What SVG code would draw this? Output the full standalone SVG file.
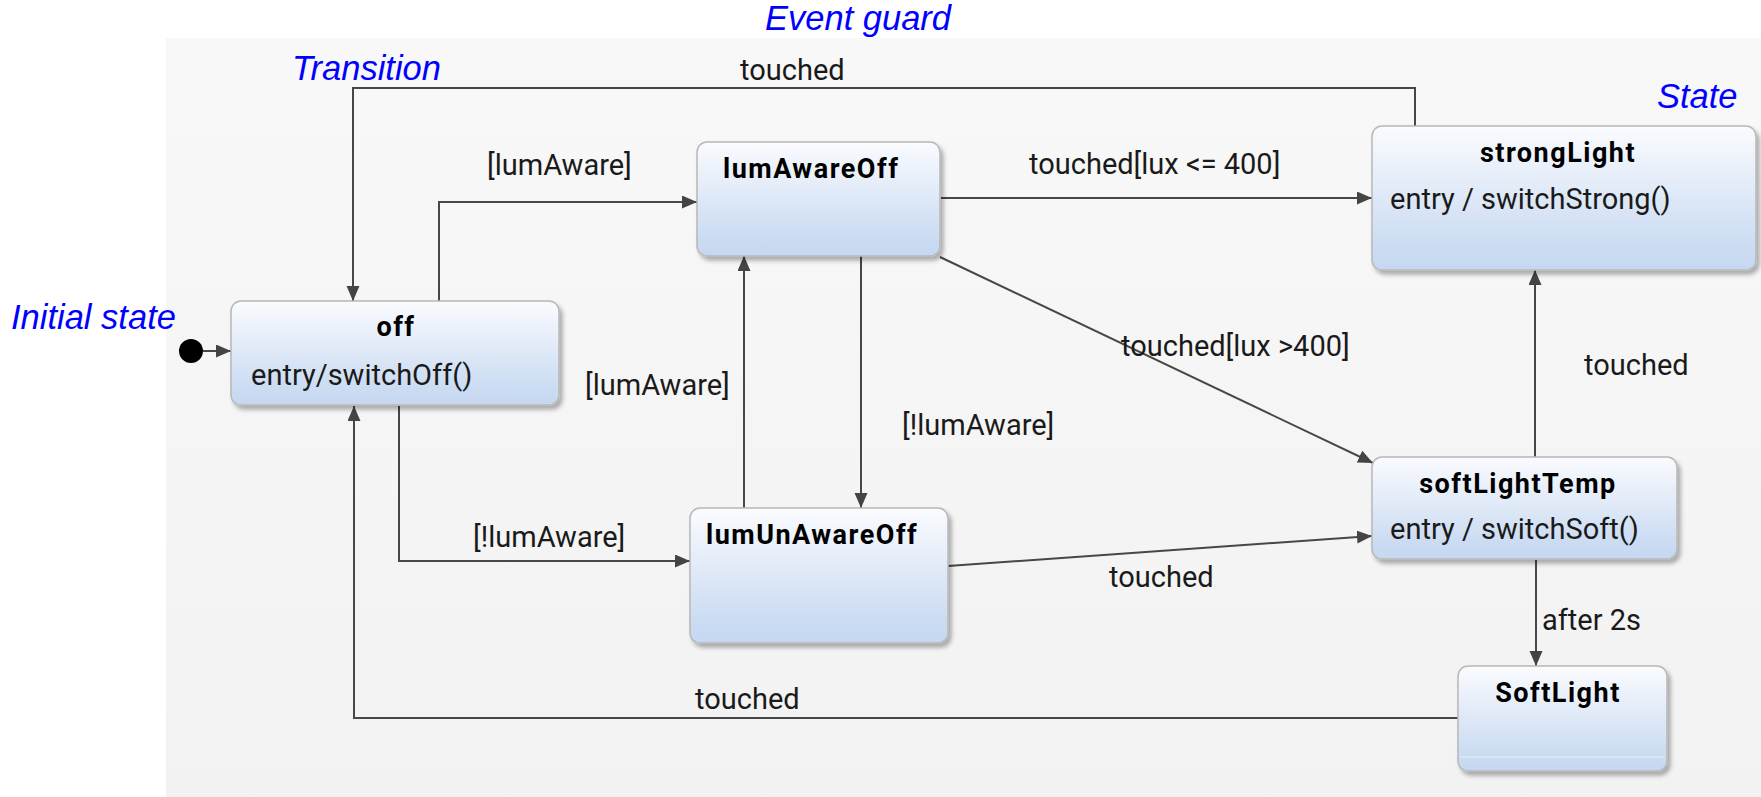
<svg xmlns="http://www.w3.org/2000/svg" width="1761" height="797" viewBox="0 0 1761 797">
<defs>
<linearGradient id="bg" x1="0" y1="0" x2="0" y2="1">
<stop offset="0" stop-color="#f8f8f8"/>
<stop offset="1" stop-color="#f2f2f2"/>
</linearGradient>
<linearGradient id="node" x1="0" y1="0" x2="0" y2="1">
<stop offset="0" stop-color="#fafbfe"/>
<stop offset="0.85" stop-color="#cadbf2"/>
<stop offset="1" stop-color="#c6d8f1"/>
</linearGradient>
<filter id="sh" x="-10%" y="-10%" width="120%" height="130%">
<feDropShadow dx="3" dy="4" stdDeviation="2" flood-color="#000" flood-opacity="0.3"/>
</filter>
<marker id="arr" markerUnits="userSpaceOnUse" markerWidth="16" markerHeight="14" refX="15" refY="6.5" orient="auto">
<path d="M0,0 L15,6.5 L0,13 z" fill="#444"/>
</marker>
<style>
.box{fill:url(#node);stroke:#b8b8b8;stroke-width:1.5;filter:url(#sh)}
.title{font-family:Roboto,"Liberation Sans",sans-serif;font-weight:bold;font-size:27px;letter-spacing:1.5px;fill:#000}
.body{font-family:Roboto,"Liberation Sans",sans-serif;font-size:29px;fill:#1a1a1a}
.lbl{font-family:Roboto,"Liberation Sans",sans-serif;font-size:29px;fill:#1a1a1a}
.note{font-family:"Liberation Sans",Arial,sans-serif;font-style:italic;font-size:34.5px;fill:#0000ff}
.edge{fill:none;stroke:#474747;stroke-width:2;marker-end:url(#arr)}
</style>
</defs>
<rect x="0" y="0" width="1761" height="797" fill="#fff"/>
<rect x="166" y="38" width="1595" height="759" fill="url(#bg)"/>

<g id="annotations">
<text class="note" x="765" y="30">Event guard</text>
<text class="note" x="292" y="80">Transition</text>
<text class="note" x="11" y="329">Initial state</text>
<text class="note" x="1657" y="108">State</text>
</g>

<g id="connectors">
<circle cx="191" cy="351" r="12" fill="#000"/>
<path class="edge" d="M203,351 L231,351"/>
<path class="edge" d="M439,301 L439,202 L697,202"/>
<text class="lbl" x="487" y="175">[lumAware]</text>
<path class="edge" d="M1415,126 L1415,88 L353,88 L353,301"/>
<text class="lbl" x="740" y="80">touched</text>
<path class="edge" d="M941,198 L1372,198"/>
<text class="lbl" x="1029" y="174">touched[lux &lt;= 400]</text>
<path class="edge" d="M940,257 L1373,463"/>
<text class="lbl" x="1121" y="356">touched[lux &gt;400]</text>
<path class="edge" d="M744,508 L744,256"/>
<text class="lbl" x="585" y="395">[lumAware]</text>
<path class="edge" d="M861,256 L861,508"/>
<text class="lbl" x="902" y="435">[!lumAware]</text>
<path class="edge" d="M399,406 L399,561 L690,561"/>
<text class="lbl" x="473" y="547">[!lumAware]</text>
<path class="edge" d="M948,566 L1372,536"/>
<text class="lbl" x="1109" y="587">touched</text>
<path class="edge" d="M1535,457 L1535,270"/>
<text class="lbl" x="1584" y="375">touched</text>
<path class="edge" d="M1536,560 L1536,666"/>
<text class="lbl" x="1542" y="630">after 2s</text>
<path class="edge" d="M1458,718 L354,718 L354,406"/>
<text class="lbl" x="695" y="709">touched</text>
</g>

<g id="off">
<rect class="box" x="231" y="301" width="328" height="104" rx="10"/>
<text class="title" x="396" y="336" text-anchor="middle">off</text>
<text class="body" x="251" y="385">entry/switchOff()</text>
</g>
<g id="lumAwareOff">
<rect class="box" x="697" y="142" width="243" height="114" rx="10"/>
<text class="title" x="723" y="178">lumAwareOff</text>
</g>
<g id="strongLight">
<rect class="box" x="1372" y="126" width="384" height="144" rx="10"/>
<text class="title" x="1558" y="162" text-anchor="middle">strongLight</text>
<text class="body" x="1390" y="209">entry / switchStrong()</text>
</g>
<g id="lumUnAwareOff">
<rect class="box" x="690" y="508" width="258" height="135" rx="10"/>
<text class="title" x="706" y="544">lumUnAwareOff</text>
</g>
<g id="softLightTemp">
<rect class="box" x="1372" y="457" width="305" height="102" rx="10"/>
<text class="title" x="1518" y="493" text-anchor="middle">softLightTemp</text>
<text class="body" x="1390" y="539">entry / switchSoft()</text>
</g>
<g id="SoftLight">
<rect class="box" x="1458" y="666" width="209" height="105" rx="10"/>
<line x1="1460" y1="757" x2="1665" y2="757" stroke="#dfe8f6" stroke-width="1.5"/>
<text class="title" x="1558" y="702" text-anchor="middle">SoftLight</text>
</g>
</svg>
